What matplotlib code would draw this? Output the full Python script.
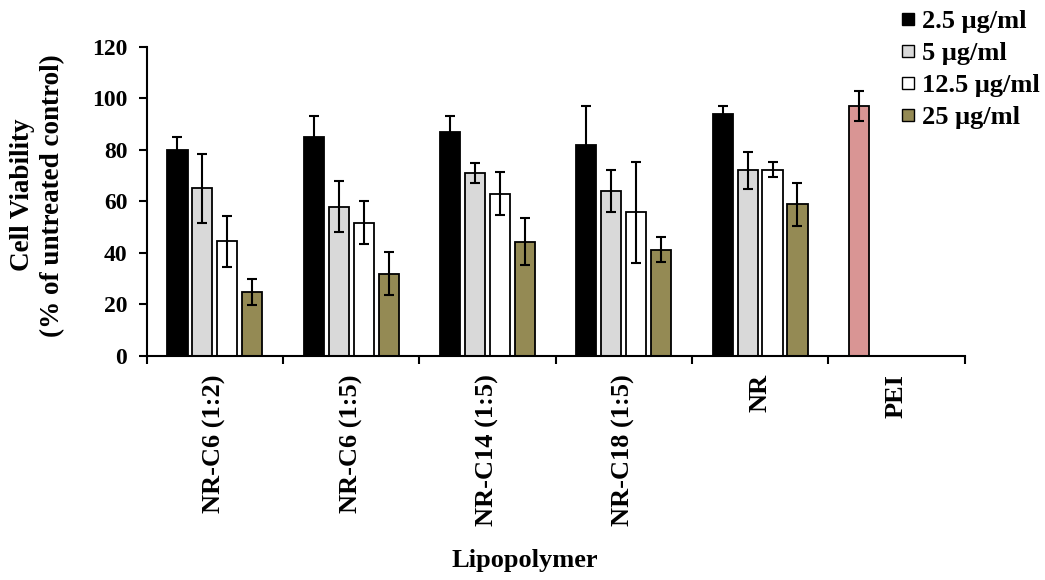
import matplotlib
matplotlib.use("Agg")
import matplotlib.pyplot as plt
import numpy as np
from matplotlib.lines import Line2D

plt.rcParams['font.family'] = ['Liberation Serif', 'DejaVu Serif']
plt.rcParams['font.weight'] = 'bold'

categories = ["NR-C6 (1:2)", "NR-C6 (1:5)", "NR-C14 (1:5)", "NR-C18 (1:5)", "NR", "PEI"]
series_labels = ["2.5 \u03bcg/ml", "5 \u03bcg/ml", "12.5 \u03bcg/ml", "25 \u03bcg/ml"]
series_colors = ["#000000", "#d9d9d9", "#ffffff", "#948a54"]

# values for first five lipopolymers (PEI only at 2.5 slot)
v_2_5 = [80, 85, 87, 82, 94, 97]
e_2_5 = [5, 8, 6, 15, 3, 6]
v_5 = [65, 58, 71, 64, 72, None]
e_5 = [13.5, 10, 4, 8.3, 7.3, None]
v_12_5 = [44.5, 51.7, 63, 55.7, 72.3, None]
e_12_5 = [10, 8.3, 8.3, 19.7, 3, None]
v_25 = [24.7, 32, 44.4, 41.3, 58.8, None]
e_25 = [5, 8.5, 9, 5, 8.3, None]
pei_color = "#d99594"

values = [v_2_5, v_5, v_12_5, v_25]
errors = [e_2_5, e_5, e_12_5, e_25]

fig = plt.figure(figsize=(10.45, 5.8), dpi=100)
ax = fig.add_axes([0.1404, 0.3862, 0.923 - 0.1404, 0.9195 - 0.3862])

n = len(categories)
x = np.arange(n)
slot = 0.183
width = 0.148
offsets = (np.arange(4) - 1.5) * slot

for i in range(4):
    vals = values[i]
    errs = errors[i]
    for j in range(n):
        if vals[j] is None:
            continue
        col = series_colors[i]
        if categories[j] == "PEI":
            col = pei_color
        xpos = x[j] + offsets[i]
        ax.bar(xpos, vals[j], width=width, color=col, edgecolor='black',
               linewidth=1.3, zorder=2)
        ax.errorbar(xpos, vals[j], yerr=errs[j], fmt='none', ecolor='black',
                    elinewidth=1.5, capsize=3.5, capthick=1.5, zorder=3)

ax.set_xlim(-0.5, n - 0.5)
ax.set_ylim(0, 120)
ax.set_yticks(np.arange(0, 121, 20))
ax.set_xticks(np.arange(-0.5, n, 1.0))
ax.set_xticklabels([])
ax.set_xticks(x, minor=True)
ax.set_xticklabels(categories, minor=True, rotation=90, fontsize=19, fontweight='bold')
ax.tick_params(axis='x', which='minor', length=0, pad=13)
ax.tick_params(axis='x', which='major', direction='out', length=6, width=1.5)
ax.tick_params(axis='y', direction='out', length=6, width=1.5, labelsize=17, pad=8)
for lab in ax.get_yticklabels():
    lab.set_fontweight('bold')
for lab in ax.get_xticklabels(minor=True):
    lab.set_verticalalignment('top')

for s in ['top', 'right']:
    ax.spines[s].set_visible(False)
for s in ['left', 'bottom']:
    ax.spines[s].set_linewidth(1.5)

ax.set_ylabel("Cell Viability\n(% of untreated control)", fontsize=19.5,
              fontweight='bold', linespacing=1.28, va='center')
ax.yaxis.set_label_coords(-0.133, 0.52)
fig.text(525 / 1045, 1 - 560 / 580, "Lipopolymer", ha='center', va='center',
         fontsize=19, fontweight='bold')

handles = [Line2D([0], [0], marker='s', linestyle='none', markersize=8,
                  markerfacecolor=c, markeredgecolor='black', markeredgewidth=1.0)
           for c in series_colors]
leg = fig.legend(handles, series_labels, loc='upper left',
                 bbox_to_anchor=(882 / 1045, 1 + 6 / 580), frameon=False,
                 prop={'size': 19, 'weight': 'bold'}, handletextpad=0.1,
                 handlelength=0.8, labelspacing=0.32, borderpad=0.1)

fig.savefig("out.png", dpi=100)
